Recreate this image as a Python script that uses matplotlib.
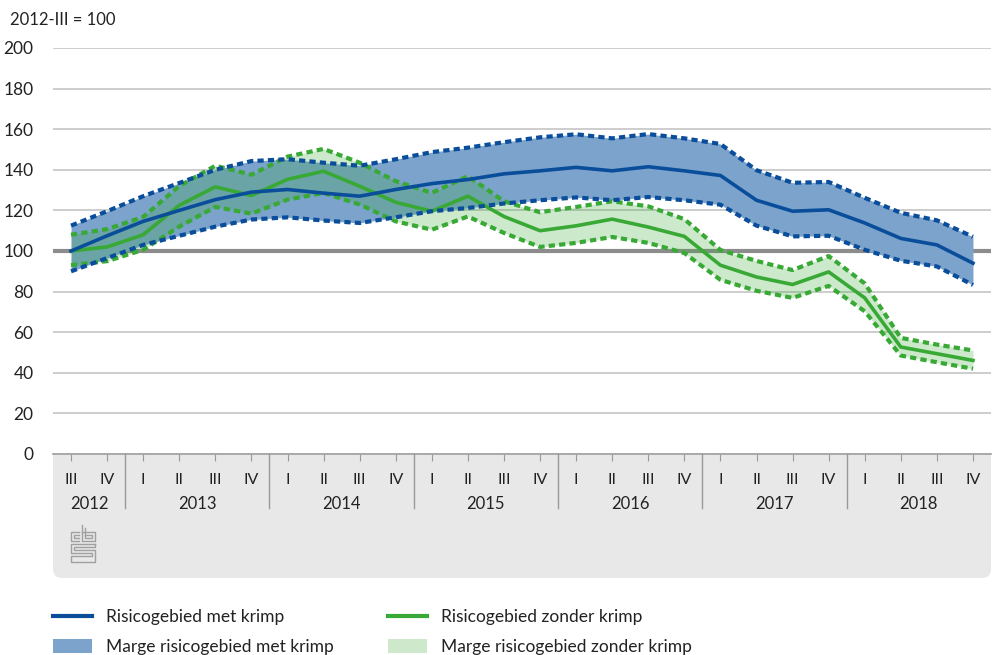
import matplotlib
matplotlib.use("Agg")
import matplotlib.pyplot as plt
from matplotlib.patches import FancyBboxPatch, Rectangle, Patch
from matplotlib.lines import Line2D
import matplotlib.transforms as mtransforms

quarters = ["III", "IV",
            "I", "II", "III", "IV",
            "I", "II", "III", "IV",
            "I", "II", "III", "IV",
            "I", "II", "III", "IV",
            "I", "II", "III", "IV",
            "I", "II", "III", "IV"]
years = ["2012", "2013", "2014", "2015", "2016", "2017", "2018"]
quarters_per_year = [2, 4, 4, 4, 4, 4, 4]

met_krimp = [100, 107.5, 114.6, 120, 125.3, 129, 130.3, 128.5, 127, 130.3, 133.2, 135.2, 138,
             139.5, 141.2, 139.5, 141.5, 139.5, 137.2, 125, 119.6, 120.3, 113.8, 106.2, 103, 94]
met_krimp_hoog = [112.5, 119.6, 127, 133.5, 140, 144.3, 145.2, 143.5, 142, 145.2, 148.7, 150.9, 153.6,
                  156, 157.5, 155.5, 157.6, 155.5, 152.7, 139.8, 133.6, 134, 126.2, 118.8, 115.1, 107]
met_krimp_laag = [90, 96.5, 103, 107.5, 112, 115.5, 116.6, 115, 113.8, 116.6, 119.6, 121.2, 123.4,
                  125, 126.4, 125, 126.6, 125, 122.8, 112.5, 107.2, 107.5, 100.6, 95.2, 92.4, 83.3]
zonder_krimp = [100, 102, 108, 122.5, 131.6, 127.3, 135.3, 139.3, 131.9, 124, 119.6, 127, 117,
                110, 112.4, 115.7, 111.8, 107.2, 93, 87.2, 83.5, 89.7, 76.9, 52.7, 49.4, 46.1]
zonder_krimp_hoog = [108, 110.8, 116.8, 132, 142, 137.6, 146.5, 150.3, 143.5, 134.4, 128.6, 136.9, 124.5,
                     119.1, 121.7, 124.5, 122, 115.7, 100.5, 95.1, 90.6, 97.5, 84, 57.2, 53.9, 51]
zonder_krimp_laag = [93, 95, 100.6, 112, 121.7, 118.4, 125.3, 128.6, 122.9, 114.6, 110.5, 117, 108.9,
                     102, 104, 106.9, 104, 99, 85.8, 80.4, 76.9, 82.8, 70.3, 48.5, 45.2, 42]
yticks = [0, 20, 40, 60, 80, 100, 120, 140, 160, 180, 200]

BLUE = "#0a4e9b"
BLUE_FILL = "#7ba3cc"
GREEN = "#38a935"
TXT = "#222222"

tick_font = ["Lato", "DejaVu Sans"]
leg_font = ["Lato", "DejaVu Sans"]

W, H = 993, 655
fig = plt.figure(figsize=(W / 100, H / 100), dpi=100)
ax = fig.add_axes([53 / W, (H - 454) / H, 938 / W, (454 - 48) / H])

x = list(range(len(quarters)))

# grey band under the axis
band = FancyBboxPatch((53, H - 578), 938, 123, boxstyle="round,pad=0,rounding_size=9",
                      transform=None, facecolor="#e8e8e8", edgecolor="none", zorder=-2)
fig.patches.append(band)
fig.patches.append(Rectangle((53, H - 500), 938, 45, transform=None,
                             facecolor="#e8e8e8", edgecolor="none", zorder=-1))

# grid
for v in yticks:
    if v == 100:
        ax.axhline(v, color="#8c8c8c", lw=3.0, zorder=1)
    elif v == 0:
        pass
    else:
        ax.axhline(v, color="#c0c0c0", lw=1.1, zorder=1)

# bands
ax.fill_between(x, met_krimp_laag, met_krimp_hoog, color=BLUE_FILL, lw=0, zorder=2)
ax.fill_between(x, zonder_krimp_laag, zonder_krimp_hoog, color=GREEN, alpha=0.25, lw=0, zorder=3)

dot = dict(lw=3.0, dashes=(1.5, 1.0), dash_capstyle="butt", solid_capstyle="butt")
ax.plot(x, zonder_krimp_hoog, color=GREEN, zorder=4, **dot)
ax.plot(x, zonder_krimp_laag, color=GREEN, zorder=4, **dot)
ax.plot(x, zonder_krimp, color=GREEN, lw=2.6, zorder=5, solid_joinstyle="round")
ax.plot(x, met_krimp_hoog, color=BLUE, zorder=6, **dot)
ax.plot(x, met_krimp_laag, color=BLUE, zorder=6, **dot)
ax.plot(x, met_krimp, color=BLUE, lw=2.6, zorder=7, solid_joinstyle="round")

ax.set_xlim(-0.5, len(quarters) - 0.5)
ax.set_ylim(0, 200)
ax.set_yticks(yticks)
ax.set_yticklabels([str(v) for v in yticks], fontsize=12.5, color=TXT, family=tick_font)
ax.tick_params(axis="y", length=0, pad=14)
ax.set_xticks(x)
ax.set_xticklabels(quarters, fontsize=11.5, color=TXT, family=tick_font)
ax.tick_params(axis="x", length=5, width=0.8, color="#999999", pad=9, direction="out")
for s in ["top", "right", "left"]:
    ax.spines[s].set_visible(False)
ax.spines["bottom"].set_color("#999999")
ax.spines["bottom"].set_linewidth(1.2)
ax.patch.set_alpha(0)

# year labels and separators
trans = mtransforms.blended_transform_factory(ax.transData, ax.transAxes)
pix = (454 - 48)
start = 0
for i, (yr, n) in enumerate(zip(years, quarters_per_year)):
    centre = start + (n - 1) / 2
    ax.text(centre, -50 / pix, yr, transform=trans, ha="center", va="center",
            fontsize=12, color=TXT, family=tick_font)
    if i > 0:
        ax.plot([start - 0.5, start - 0.5], [0, -54 / pix], transform=trans,
                color="#999999", lw=1.0, clip_on=False)
    start += n

# y-axis title
fig.text(10 / W, 1 - 20 / H, "2012-III = 100", fontsize=12, color=TXT,
         family=tick_font, ha="left", va="center")

# cbs logo (simplified)
lc = "#a0a0a0"
def seg(xs, ys):
    fig.lines.append(Line2D(xs, [H - y for y in ys], transform=None, color=lc, lw=1.0))
seg([79, 71, 71, 79], [532, 532, 541, 541])
seg([79, 74, 74, 79], [535, 535, 538, 538])
seg([82, 82, 95, 95, 82], [525, 541, 541, 532, 532])
seg([85, 85, 92, 92, 85], [528, 538, 538, 535, 535])
seg([95, 71, 71, 92, 92, 71, 71, 95, 95, 74, 74, 95, 95], [544, 544, 553, 553, 556, 556, 562, 562, 550, 550, 547, 547, 544])

# legends
h1 = [Line2D([], [], color=BLUE, lw=3.0),
      Patch(facecolor=BLUE_FILL, edgecolor="none")]
h2 = [Line2D([], [], color=GREEN, lw=3.0),
      Patch(facecolor="#cde8ca", edgecolor="none")]
common = dict(frameon=False, handlelength=2.25, handleheight=0.85,
              handletextpad=0.78, labelspacing=0.82, borderpad=0, borderaxespad=0,
              prop={"family": leg_font, "size": 12.5}, labelcolor=TXT)
l1 = fig.legend(h1, ["Risicogebied met krimp", "Marge risicogebied met krimp"],
                loc="upper left", bbox_to_anchor=(53 / W, 1 - 609 / H), **common)
l2 = fig.legend(h2, ["Risicogebied zonder krimp", "Marge risicogebied zonder krimp"],
                loc="upper left", bbox_to_anchor=(388 / W, 1 - 609 / H), **common)

fig.savefig("out.png", dpi=100)
